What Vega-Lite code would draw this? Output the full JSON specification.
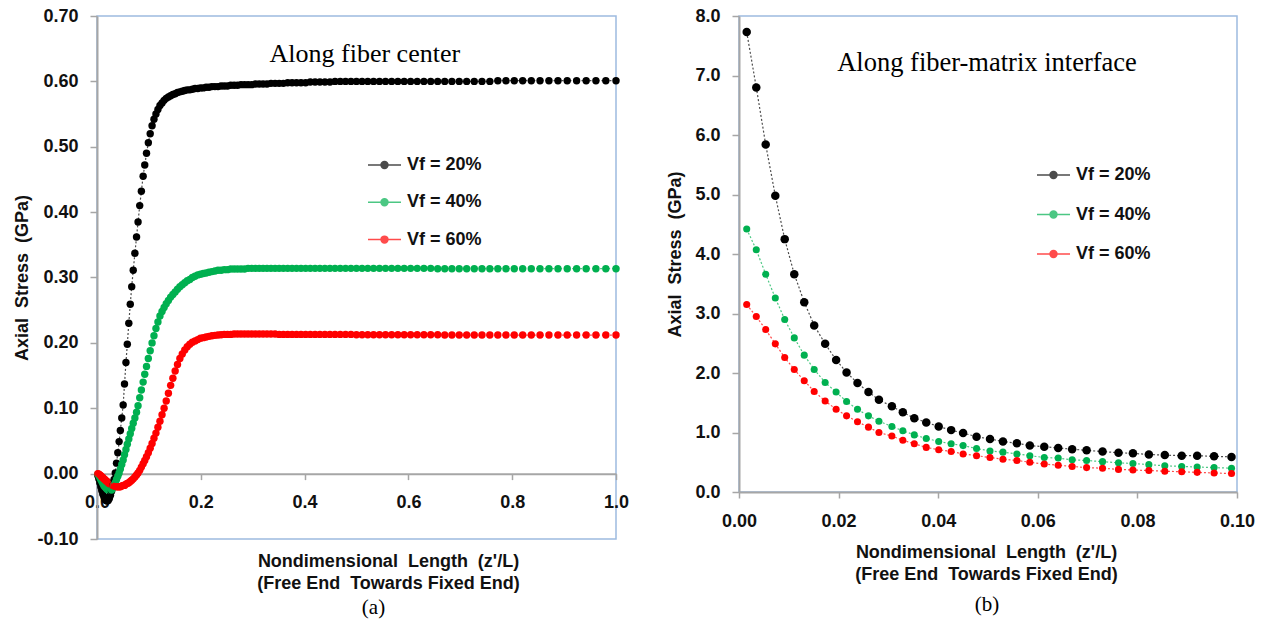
{
  "$schema": "https://vega.github.io/schema/vega-lite/v6.json",
  "background": "white",
  "padding": {"left": 13, "top": 6, "right": 5, "bottom": 0},
  "bounds": "flush",
  "spacing": 123,
  "config": {
    "font": "Liberation Sans",
    "view": {"stroke": "#9dbbe0", "strokeWidth": 1.5},
    "axis": {
      "grid": false,
      "domainColor": "#a6a6a6",
      "domainWidth": 2,
      "tickColor": "#a6a6a6",
      "tickWidth": 1.5,
      "tickSize": 7,
      "labelFont": "Liberation Sans",
      "labelFontSize": 18,
      "labelFontWeight": "bold",
      "labelColor": "#111111",
      "labelFlush": false,
      "labelOverlap": false,
      "titleFont": "Liberation Sans",
      "titleFontSize": 18,
      "titleFontWeight": "bold",
      "titleColor": "#111111"
    },
    "legend": {
      "orient": "none",
      "title": null,
      "padding": 0,
      "symbolType": "M-1,0L1,0M0.21,0A0.21,0.21,0,1,1,-0.21,0A0.21,0.21,0,1,1,0.21,0Z",
      "symbolSize": 1089,
      "labelFont": "Liberation Sans",
      "labelFontSize": 18,
      "labelFontWeight": "bold",
      "labelColor": "#111111",
      "labelOffset": 5
    },
    "title": {"font": "Liberation Serif", "fontSize": 21, "fontWeight": "normal", "color": "#000000"}
  },
  "hconcat": [
    {
      "width": 519,
      "height": 523,
      "title": {"text": "(a)", "orient": "bottom", "dx": 17, "offset": 4},
      "layer": [
        {
          "data": {"values": [
            {"x":0.0016,"v20":-0.003,"v40":-0.001,"v60":0.000},
            {"x":0.0035,"v20":-0.008,"v40":-0.003,"v60":-0.001},
            {"x":0.0054,"v20":-0.014,"v40":-0.006,"v60":-0.002},
            {"x":0.0073,"v20":-0.020,"v40":-0.009,"v60":-0.003},
            {"x":0.0092,"v20":-0.026,"v40":-0.012,"v60":-0.005},
            {"x":0.0111,"v20":-0.031,"v40":-0.015,"v60":-0.006},
            {"x":0.0131,"v20":-0.035,"v40":-0.018,"v60":-0.008},
            {"x":0.0151,"v20":-0.039,"v40":-0.020,"v60":-0.009},
            {"x":0.0173,"v20":-0.041,"v40":-0.022,"v60":-0.011},
            {"x":0.0195,"v20":-0.042,"v40":-0.024,"v60":-0.012},
            {"x":0.0216,"v20":-0.041,"v40":-0.025,"v60":-0.014},
            {"x":0.0238,"v20":-0.038,"v40":-0.026,"v60":-0.015},
            {"x":0.0260,"v20":-0.033,"v40":-0.026,"v60":-0.016},
            {"x":0.0281,"v20":-0.027,"v40":-0.025,"v60":-0.017},
            {"x":0.0307,"v20":-0.018,"v40":-0.022,"v60":-0.018},
            {"x":0.0329,"v20":-0.009,"v40":-0.018,"v60":-0.019},
            {"x":0.0352,"v20":0.001,"v40":-0.014,"v60":-0.019},
            {"x":0.0376,"v20":0.016,"v40":-0.009,"v60":-0.020},
            {"x":0.0401,"v20":0.032,"v40":-0.004,"v60":-0.020},
            {"x":0.0426,"v20":0.049,"v40":0.001,"v60":-0.020},
            {"x":0.0450,"v20":0.066,"v40":0.007,"v60":-0.020},
            {"x":0.0477,"v20":0.085,"v40":0.014,"v60":-0.019},
            {"x":0.0504,"v20":0.105,"v40":0.021,"v60":-0.018},
            {"x":0.0530,"v20":0.137,"v40":0.029,"v60":-0.018},
            {"x":0.0558,"v20":0.170,"v40":0.037,"v60":-0.016},
            {"x":0.0584,"v20":0.198,"v40":0.045,"v60":-0.015},
            {"x":0.0613,"v20":0.230,"v40":0.053,"v60":-0.014},
            {"x":0.0641,"v20":0.259,"v40":0.061,"v60":-0.012},
            {"x":0.0669,"v20":0.286,"v40":0.069,"v60":-0.010},
            {"x":0.0698,"v20":0.311,"v40":0.077,"v60":-0.008},
            {"x":0.0730,"v20":0.337,"v40":0.085,"v60":-0.005},
            {"x":0.0762,"v20":0.362,"v40":0.094,"v60":-0.002},
            {"x":0.0791,"v20":0.385,"v40":0.104,"v60":0.001},
            {"x":0.0823,"v20":0.410,"v40":0.116,"v60":0.005},
            {"x":0.0855,"v20":0.432,"v40":0.128,"v60":0.010},
            {"x":0.0889,"v20":0.455,"v40":0.140,"v60":0.015},
            {"x":0.0920,"v20":0.472,"v40":0.152,"v60":0.020},
            {"x":0.0954,"v20":0.490,"v40":0.164,"v60":0.026},
            {"x":0.0989,"v20":0.506,"v40":0.176,"v60":0.032},
            {"x":0.1025,"v20":0.520,"v40":0.188,"v60":0.039},
            {"x":0.1061,"v20":0.532,"v40":0.200,"v60":0.046},
            {"x":0.1098,"v20":0.542,"v40":0.211,"v60":0.054},
            {"x":0.1136,"v20":0.550,"v40":0.222,"v60":0.062},
            {"x":0.1174,"v20":0.557,"v40":0.232,"v60":0.071},
            {"x":0.1213,"v20":0.563,"v40":0.241,"v60":0.080},
            {"x":0.1253,"v20":0.567,"v40":0.248,"v60":0.090},
            {"x":0.1293,"v20":0.571,"v40":0.254,"v60":0.100},
            {"x":0.1334,"v20":0.574,"v40":0.260,"v60":0.111},
            {"x":0.1376,"v20":0.576,"v40":0.265,"v60":0.123},
            {"x":0.1419,"v20":0.578,"v40":0.270,"v60":0.135},
            {"x":0.1462,"v20":0.580,"v40":0.274,"v60":0.146},
            {"x":0.1506,"v20":0.581,"v40":0.278,"v60":0.157},
            {"x":0.1551,"v20":0.583,"v40":0.282,"v60":0.167},
            {"x":0.1597,"v20":0.584,"v40":0.286,"v60":0.176},
            {"x":0.1643,"v20":0.585,"v40":0.289,"v60":0.183},
            {"x":0.1691,"v20":0.586,"v40":0.292,"v60":0.189},
            {"x":0.1739,"v20":0.587,"v40":0.295,"v60":0.194},
            {"x":0.1788,"v20":0.587,"v40":0.297,"v60":0.198},
            {"x":0.1838,"v20":0.588,"v40":0.300,"v60":0.201},
            {"x":0.1889,"v20":0.589,"v40":0.302,"v60":0.203},
            {"x":0.1941,"v20":0.589,"v40":0.304,"v60":0.205},
            {"x":0.1994,"v20":0.590,"v40":0.305,"v60":0.207},
            {"x":0.2048,"v20":0.590,"v40":0.306,"v60":0.208},
            {"x":0.2102,"v20":0.591,"v40":0.307,"v60":0.209},
            {"x":0.2158,"v20":0.591,"v40":0.308,"v60":0.210},
            {"x":0.2215,"v20":0.592,"v40":0.309,"v60":0.211},
            {"x":0.2273,"v20":0.592,"v40":0.310,"v60":0.2115},
            {"x":0.2331,"v20":0.592,"v40":0.311,"v60":0.212},
            {"x":0.2391,"v20":0.593,"v40":0.311,"v60":0.2125},
            {"x":0.2452,"v20":0.593,"v40":0.312,"v60":0.213},
            {"x":0.2514,"v20":0.593,"v40":0.312,"v60":0.213},
            {"x":0.2577,"v20":0.594,"v40":0.313,"v60":0.213},
            {"x":0.2642,"v20":0.594,"v40":0.313,"v60":0.2135},
            {"x":0.2707,"v20":0.594,"v40":0.313,"v60":0.2135},
            {"x":0.2774,"v20":0.595,"v40":0.313,"v60":0.2135},
            {"x":0.2842,"v20":0.595,"v40":0.313,"v60":0.2135},
            {"x":0.2911,"v20":0.595,"v40":0.314,"v60":0.2135},
            {"x":0.2981,"v20":0.595,"v40":0.314,"v60":0.2135},
            {"x":0.3053,"v20":0.596,"v40":0.314,"v60":0.2135},
            {"x":0.3126,"v20":0.596,"v40":0.314,"v60":0.2135},
            {"x":0.3200,"v20":0.596,"v40":0.314,"v60":0.2135},
            {"x":0.3275,"v20":0.596,"v40":0.314,"v60":0.2135},
            {"x":0.3352,"v20":0.597,"v40":0.314,"v60":0.2135},
            {"x":0.3431,"v20":0.597,"v40":0.314,"v60":0.2135},
            {"x":0.3510,"v20":0.597,"v40":0.314,"v60":0.213},
            {"x":0.3591,"v20":0.597,"v40":0.314,"v60":0.213},
            {"x":0.3674,"v20":0.598,"v40":0.314,"v60":0.213},
            {"x":0.3758,"v20":0.598,"v40":0.314,"v60":0.213},
            {"x":0.3844,"v20":0.598,"v40":0.314,"v60":0.213},
            {"x":0.3931,"v20":0.598,"v40":0.314,"v60":0.213},
            {"x":0.4020,"v20":0.598,"v40":0.314,"v60":0.213},
            {"x":0.4110,"v20":0.599,"v40":0.314,"v60":0.213},
            {"x":0.4202,"v20":0.599,"v40":0.314,"v60":0.213},
            {"x":0.4295,"v20":0.599,"v40":0.314,"v60":0.213},
            {"x":0.4391,"v20":0.599,"v40":0.314,"v60":0.213},
            {"x":0.4488,"v20":0.599,"v40":0.314,"v60":0.213},
            {"x":0.4586,"v20":0.600,"v40":0.314,"v60":0.213},
            {"x":0.4687,"v20":0.600,"v40":0.314,"v60":0.213},
            {"x":0.4789,"v20":0.600,"v40":0.314,"v60":0.213},
            {"x":0.4893,"v20":0.600,"v40":0.314,"v60":0.213},
            {"x":0.4999,"v20":0.600,"v40":0.314,"v60":0.2125},
            {"x":0.5107,"v20":0.600,"v40":0.314,"v60":0.2125},
            {"x":0.5217,"v20":0.600,"v40":0.314,"v60":0.2125},
            {"x":0.5329,"v20":0.600,"v40":0.314,"v60":0.2125},
            {"x":0.5443,"v20":0.600,"v40":0.314,"v60":0.2125},
            {"x":0.5559,"v20":0.600,"v40":0.314,"v60":0.2125},
            {"x":0.5677,"v20":0.600,"v40":0.314,"v60":0.2125},
            {"x":0.5797,"v20":0.600,"v40":0.314,"v60":0.2125},
            {"x":0.5919,"v20":0.600,"v40":0.314,"v60":0.2125},
            {"x":0.6043,"v20":0.600,"v40":0.314,"v60":0.2125},
            {"x":0.6170,"v20":0.600,"v40":0.314,"v60":0.2125},
            {"x":0.6299,"v20":0.600,"v40":0.314,"v60":0.2125},
            {"x":0.6430,"v20":0.600,"v40":0.314,"v60":0.2125},
            {"x":0.6564,"v20":0.600,"v40":0.3135,"v60":0.2125},
            {"x":0.6700,"v20":0.600,"v40":0.3135,"v60":0.212},
            {"x":0.6838,"v20":0.600,"v40":0.3135,"v60":0.212},
            {"x":0.6979,"v20":0.600,"v40":0.3135,"v60":0.212},
            {"x":0.7123,"v20":0.600,"v40":0.3135,"v60":0.212},
            {"x":0.7269,"v20":0.600,"v40":0.3135,"v60":0.212},
            {"x":0.7418,"v20":0.600,"v40":0.3135,"v60":0.212},
            {"x":0.7569,"v20":0.600,"v40":0.3135,"v60":0.212},
            {"x":0.7723,"v20":0.601,"v40":0.3135,"v60":0.212},
            {"x":0.7880,"v20":0.601,"v40":0.3135,"v60":0.212},
            {"x":0.8040,"v20":0.601,"v40":0.3135,"v60":0.212},
            {"x":0.8202,"v20":0.601,"v40":0.3135,"v60":0.212},
            {"x":0.8368,"v20":0.601,"v40":0.3135,"v60":0.212},
            {"x":0.8536,"v20":0.601,"v40":0.3135,"v60":0.212},
            {"x":0.8708,"v20":0.601,"v40":0.3135,"v60":0.212},
            {"x":0.8882,"v20":0.601,"v40":0.3135,"v60":0.212},
            {"x":0.9060,"v20":0.601,"v40":0.3135,"v60":0.212},
            {"x":0.9241,"v20":0.601,"v40":0.3135,"v60":0.212},
            {"x":0.9425,"v20":0.601,"v40":0.3135,"v60":0.212},
            {"x":0.9613,"v20":0.601,"v40":0.3135,"v60":0.212},
            {"x":0.9804,"v20":0.601,"v40":0.3135,"v60":0.212},
            {"x":1.0000,"v20":0.601,"v40":0.3135,"v60":0.212}
          ]},
          "transform": [{"fold": ["v20", "v40", "v60"], "as": ["series", "stress"]}],
          "encoding": {
            "x": {
              "field": "x", "type": "quantitative",
              "scale": {"domain": [0, 1], "nice": false, "zero": false},
              "axis": {
                "values": [0, 0.2, 0.4, 0.6, 0.8, 1.0],
                "format": ".1f",
                "offset": -65.375,
                "tickSize": 6,
                "labelPadding": 14,
                "title": ["Nondimensional \u00a0Length \u00a0(z'/L)", "(Free End \u00a0Towards Fixed End)"],
                "titleX": 291, "titleY": 93,
                "titleAlign": "center", "titleBaseline": "alphabetic", "titleLineHeight": 22
              }
            },
            "y": {
              "field": "stress", "type": "quantitative",
              "scale": {"domain": [-0.1, 0.7], "nice": false, "zero": false},
              "axis": {
                "values": [-0.1, 0, 0.1, 0.2, 0.3, 0.4, 0.5, 0.6, 0.7],
                "format": ".2f",
                "labelExpr": "replace(datum.label, '\u2212', '-')",
                "labelPadding": 12,
                "title": "Axial \u00a0Stress \u00a0(GPa)",
                "titlePadding": 5
              }
            },
            "color": {
              "field": "series", "type": "nominal",
              "scale": {"domain": ["v20", "v40", "v60"], "range": ["#000000", "#00b050", "#ff0000"]},
              "legend": {
                "legendX": 270, "legendY": 131.5, "rowPadding": 10.3,
                "labelExpr": "'Vf = ' + slice(datum.label, 1) + '%'",
                "encode": {"symbols": {"update": {
                  "fill": {"signal": "datum.value === 'v20' ? '#000000' : datum.value === 'v40' ? '#00b050' : '#ff0000'"},
                  "stroke": {"signal": "datum.value === 'v20' ? '#000000' : datum.value === 'v40' ? '#00b050' : '#ff0000'"},
                  "strokeWidth": {"value": 1.2},
                  "strokeDash": {"value": [2, 2]},
                  "opacity": {"value": 1}
                }}}
              }
            }
          },
          "layer": [
            {"mark": {"type": "line", "strokeWidth": 1.2, "strokeDash": [2, 2], "opacity": 0.7}},
            {"mark": {"type": "point", "filled": true, "size": 55, "opacity": 1}}
          ]
        },
        {
          "data": {"values": [{"label": "Along fiber center"}]},
          "mark": {"type": "text", "font": "Liberation Serif", "fontSize": 26, "align": "center", "baseline": "alphabetic", "color": "#000000"},
          "encoding": {
            "x": {"datum": 0.516, "type": "quantitative"},
            "y": {"datum": 0.629, "type": "quantitative"},
            "text": {"field": "label", "type": "nominal"}
          }
        }
      ]
    },
    {
      "width": 498,
      "height": 476,
      "title": {"text": "(b)", "orient": "bottom", "dx": -1, "offset": 11},
      "layer": [
        {
          "data": {"values": [
            {"x":0.00155,"v20":7.73,"v40":4.42,"v60":3.15},
            {"x":0.00347,"v20":6.80,"v40":4.07,"v60":2.95},
            {"x":0.00536,"v20":5.84,"v40":3.66,"v60":2.73},
            {"x":0.00729,"v20":4.98,"v40":3.26,"v60":2.49},
            {"x":0.00918,"v20":4.25,"v40":2.90,"v60":2.26},
            {"x":0.0111,"v20":3.66,"v40":2.59,"v60":2.06},
            {"x":0.0131,"v20":3.19,"v40":2.30,"v60":1.87},
            {"x":0.0151,"v20":2.80,"v40":2.06,"v60":1.69},
            {"x":0.0173,"v20":2.49,"v40":1.84,"v60":1.53},
            {"x":0.0195,"v20":2.22,"v40":1.68,"v60":1.39},
            {"x":0.0216,"v20":2.01,"v40":1.52,"v60":1.28},
            {"x":0.0238,"v20":1.83,"v40":1.39,"v60":1.18},
            {"x":0.0260,"v20":1.68,"v40":1.28,"v60":1.09},
            {"x":0.0281,"v20":1.55,"v40":1.19,"v60":1.00},
            {"x":0.0307,"v20":1.44,"v40":1.10,"v60":0.94},
            {"x":0.0329,"v20":1.34,"v40":1.03,"v60":0.87},
            {"x":0.0352,"v20":1.24,"v40":0.96,"v60":0.81},
            {"x":0.0376,"v20":1.17,"v40":0.90,"v60":0.75},
            {"x":0.0401,"v20":1.10,"v40":0.85,"v60":0.71},
            {"x":0.0426,"v20":1.04,"v40":0.81,"v60":0.68},
            {"x":0.0450,"v20":0.99,"v40":0.78,"v60":0.64},
            {"x":0.0477,"v20":0.93,"v40":0.73,"v60":0.61},
            {"x":0.0504,"v20":0.89,"v40":0.69,"v60":0.58},
            {"x":0.0530,"v20":0.85,"v40":0.67,"v60":0.55},
            {"x":0.0558,"v20":0.82,"v40":0.64,"v60":0.53},
            {"x":0.0584,"v20":0.78,"v40":0.61,"v60":0.50},
            {"x":0.0613,"v20":0.76,"v40":0.58,"v60":0.47},
            {"x":0.0641,"v20":0.74,"v40":0.57,"v60":0.45},
            {"x":0.0669,"v20":0.72,"v40":0.54,"v60":0.43},
            {"x":0.0698,"v20":0.70,"v40":0.53,"v60":0.41},
            {"x":0.0730,"v20":0.68,"v40":0.51,"v60":0.40},
            {"x":0.0762,"v20":0.66,"v40":0.49,"v60":0.38},
            {"x":0.0791,"v20":0.65,"v40":0.48,"v60":0.37},
            {"x":0.0823,"v20":0.63,"v40":0.46,"v60":0.36},
            {"x":0.0855,"v20":0.62,"v40":0.44,"v60":0.35},
            {"x":0.0889,"v20":0.61,"v40":0.43,"v60":0.34},
            {"x":0.0920,"v20":0.61,"v40":0.42,"v60":0.33},
            {"x":0.0954,"v20":0.60,"v40":0.41,"v60":0.32},
            {"x":0.0989,"v20":0.59,"v40":0.40,"v60":0.31}
          ]},
          "transform": [{"fold": ["v20", "v40", "v60"], "as": ["series", "stress"]}],
          "encoding": {
            "x": {
              "field": "x", "type": "quantitative",
              "scale": {"domain": [0, 0.1], "nice": false, "zero": false},
              "axis": {
                "values": [0, 0.02, 0.04, 0.06, 0.08, 0.1],
                "format": ".2f",
                "tickSize": 6,
                "labelPadding": 14,
                "title": ["Nondimensional \u00a0Length \u00a0(z'/L)", "(Free End \u00a0Towards Fixed End)"],
                "titleX": 247, "titleY": 65,
                "titleAlign": "center", "titleBaseline": "alphabetic", "titleLineHeight": 22
              }
            },
            "y": {
              "field": "stress", "type": "quantitative",
              "scale": {"domain": [0, 8], "nice": false},
              "axis": {
                "values": [0, 1, 2, 3, 4, 5, 6, 7, 8],
                "format": ".1f",
                "labelPadding": 12,
                "title": "Axial \u00a0Stress \u00a0(GPa)",
                "titlePadding": 10
              }
            },
            "color": {
              "field": "series", "type": "nominal",
              "scale": {"domain": ["v20", "v40", "v60"], "range": ["#000000", "#00b050", "#ff0000"]},
              "legend": {
                "legendX": 297, "legendY": 141.5, "rowPadding": 12.5,
                "labelExpr": "'Vf = ' + slice(datum.label, 1) + '%'",
                "encode": {"symbols": {"update": {
                  "fill": {"signal": "datum.value === 'v20' ? '#000000' : datum.value === 'v40' ? '#00b050' : '#ff0000'"},
                  "stroke": {"signal": "datum.value === 'v20' ? '#000000' : datum.value === 'v40' ? '#00b050' : '#ff0000'"},
                  "strokeWidth": {"value": 1.2},
                  "strokeDash": {"value": [2, 2]},
                  "opacity": {"value": 1}
                }}}
              }
            }
          },
          "layer": [
            {"mark": {"type": "line", "strokeWidth": 1.2, "strokeDash": [2, 2], "opacity": 0.7}},
            {
              "transform": [{"filter": "datum.series === 'v20'"}],
              "mark": {"type": "point", "filled": true, "size": 72, "opacity": 1}
            },
            {
              "transform": [{"filter": "datum.series !== 'v20'"}],
              "mark": {"type": "point", "filled": true, "size": 50, "opacity": 1}
            }
          ]
        },
        {
          "data": {"values": [{"label": "Along fiber-matrix interface"}]},
          "mark": {"type": "text", "font": "Liberation Serif", "fontSize": 26.5, "align": "center", "baseline": "alphabetic", "color": "#000000"},
          "encoding": {
            "x": {"datum": 0.0498, "type": "quantitative"},
            "y": {"datum": 7.08, "type": "quantitative"},
            "text": {"field": "label", "type": "nominal"}
          }
        }
      ]
    }
  ],
  "resolve": {"scale": {"x": "independent", "y": "independent", "color": "independent"}, "legend": {"color": "independent"}}
}
